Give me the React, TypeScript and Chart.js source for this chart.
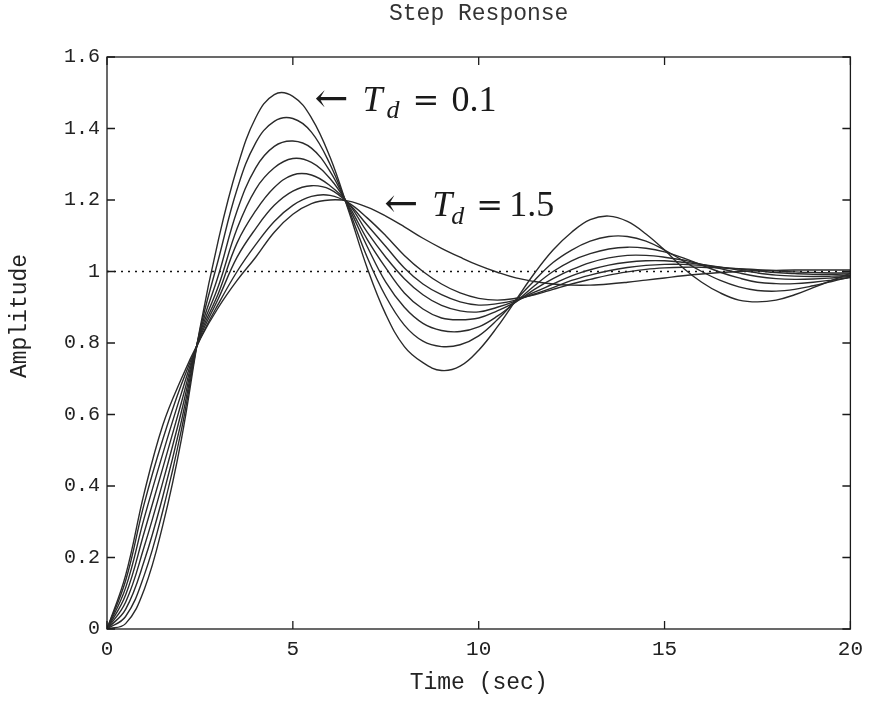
import React, { useEffect, useRef } from 'react';
import { Chart, registerables } from 'chart.js';

Chart.register(...registerables);

const titleText = 'Step Response';
const xTitle = 'Time (sec)';
const yTitle = 'Amplitude';
const xTicks = [0, 5, 10, 15, 20];
const yTicks = [0, 0.2, 0.4, 0.6, 0.8, 1, 1.2, 1.4, 1.6];

const times = [0, 0.5, 1, 1.5, 2, 2.5, 3, 3.5, 4, 4.5, 5, 5.5, 6, 6.5, 7, 7.5, 8, 8.5, 9, 9.5, 10, 10.5, 11, 11.5, 12, 12.5, 13, 13.5, 14, 14.5, 15, 15.5, 16, 16.5, 17, 17.5, 18, 18.5, 19, 19.5, 20];

const tdValues = ['0.1', '0.3', '0.5', '0.7', '0.9', '1.1', '1.3', '1.5'];
const yTd01 = [0, 0.015, 0.11, 0.29, 0.53, 0.84, 1.09, 1.29, 1.43, 1.495, 1.49, 1.43, 1.32, 1.17, 1.01, 0.88, 0.79, 0.745, 0.723, 0.735, 0.78, 0.845, 0.92, 0.995, 1.06, 1.11, 1.145, 1.155, 1.14, 1.105, 1.06, 1.01, 0.97, 0.94, 0.92, 0.915, 0.92, 0.935, 0.955, 0.975, 0.995];
const yTd03 = [0, 0.035, 0.15, 0.33, 0.556, 0.835, 1.035, 1.23, 1.36, 1.42, 1.428, 1.39, 1.30, 1.175, 1.04, 0.93, 0.85, 0.805, 0.79, 0.795, 0.82, 0.865, 0.92, 0.975, 1.025, 1.06, 1.085, 1.098, 1.098, 1.085, 1.06, 1.03, 1.0, 0.975, 0.957, 0.947, 0.945, 0.95, 0.96, 0.972, 0.985];
const yTd05 = [0, 0.055, 0.19, 0.37, 0.581, 0.83, 0.99, 1.17, 1.29, 1.35, 1.365, 1.345, 1.28, 1.18, 1.07, 0.97, 0.90, 0.855, 0.835, 0.832, 0.845, 0.875, 0.915, 0.96, 1.0, 1.03, 1.05, 1.063, 1.068, 1.065, 1.055, 1.038, 1.018, 0.998, 0.982, 0.97, 0.966, 0.966, 0.97, 0.976, 0.983];
const yTd07 = [0, 0.075, 0.23, 0.41, 0.607, 0.825, 0.96, 1.12, 1.23, 1.29, 1.316, 1.305, 1.26, 1.185, 1.09, 1.01, 0.94, 0.895, 0.87, 0.865, 0.87, 0.89, 0.915, 0.95, 0.98, 1.005, 1.025, 1.038, 1.045, 1.045, 1.04, 1.032, 1.02, 1.008, 0.996, 0.986, 0.98, 0.978, 0.979, 0.982, 0.986];
const yTd09 = [0, 0.095, 0.27, 0.45, 0.633, 0.82, 0.94, 1.08, 1.17, 1.235, 1.27, 1.27, 1.24, 1.19, 1.11, 1.04, 0.98, 0.935, 0.905, 0.89, 0.887, 0.90, 0.918, 0.942, 0.965, 0.988, 1.005, 1.018, 1.026, 1.03, 1.03, 1.026, 1.02, 1.012, 1.004, 0.996, 0.99, 0.987, 0.986, 0.987, 0.989];
const yTd11 = [0, 0.115, 0.31, 0.49, 0.659, 0.815, 0.925, 1.04, 1.12, 1.185, 1.225, 1.24, 1.23, 1.19, 1.13, 1.07, 1.01, 0.965, 0.935, 0.915, 0.906, 0.91, 0.92, 0.937, 0.955, 0.975, 0.99, 1.002, 1.011, 1.017, 1.02, 1.02, 1.017, 1.012, 1.007, 1.002, 0.997, 0.994, 0.992, 0.992, 0.993];
const yTd13 = [0, 0.135, 0.35, 0.53, 0.684, 0.81, 0.91, 1.0, 1.075, 1.14, 1.185, 1.21, 1.213, 1.192, 1.15, 1.10, 1.045, 1.0, 0.965, 0.94, 0.925, 0.92, 0.925, 0.935, 0.95, 0.965, 0.978, 0.99, 0.999, 1.006, 1.01, 1.012, 1.012, 1.01, 1.008, 1.005, 1.002, 0.999, 0.997, 0.996, 0.996];
const yTd15 = [0, 0.15, 0.38, 0.57, 0.70, 0.81, 0.90, 0.975, 1.04, 1.11, 1.16, 1.19, 1.20, 1.197, 1.18, 1.155, 1.125, 1.093, 1.065, 1.04, 1.017, 0.998, 0.982, 0.972, 0.965, 0.962, 0.962, 0.965, 0.97, 0.976, 0.982, 0.988, 0.993, 0.997, 1.0, 1.002, 1.003, 1.004, 1.004, 1.004, 1.004];
const curves = [yTd01, yTd03, yTd05, yTd07, yTd09, yTd11, yTd13, yTd15];

const refX = [0, 20];
const refY = [1, 1];

const monoFont = "'Liberation Mono', 'DejaVu Sans Mono', monospace";
const serifFont = "'Liberation Serif', 'DejaVu Serif', serif";
const symFont = "'DejaVu Serif', 'Liberation Serif', serif";

const framePlugin = {
  id: 'frameTicks',
  afterDraw(chart: any) {
    const { ctx, chartArea, scales } = chart;
    const { left, right, top, bottom } = chartArea;
    const xs = scales.x;
    const ys = scales.y;
    ctx.save();
    ctx.strokeStyle = '#1a1a1a';
    ctx.lineWidth = 1.3;
    ctx.strokeRect(left, top, right - left, bottom - top);
    const L = 8;
    ctx.beginPath();
    ys.ticks.forEach((t: any) => {
      const py = ys.getPixelForValue(t.value);
      ctx.moveTo(left, py); ctx.lineTo(left + L, py);
      ctx.moveTo(right, py); ctx.lineTo(right - L, py);
    });
    xs.ticks.forEach((t: any) => {
      const px = xs.getPixelForValue(t.value);
      ctx.moveTo(px, bottom); ctx.lineTo(px, bottom - L);
      ctx.moveTo(px, top); ctx.lineTo(px, top + L);
    });
    ctx.stroke();
    // y-axis title
    ctx.fillStyle = '#222';
    ctx.font = `23px ${monoFont}`;
    ctx.textAlign = 'center';
    ctx.textBaseline = 'middle';
    ctx.translate(20, 316);
    ctx.rotate(-Math.PI / 2);
    ctx.fillText(yTitle, 0, 0);
    ctx.restore();
  },
};

type Note = { t: number; v: number; value: string; dxT: number; dxD: number; dxEq: number; dxVal: number; dSub: number };
const notes: Note[] = [
  { t: 5.58, v: 1.48, value: '0.1', dxT: 48, dxD: 72, dxEq: 98, dxVal: 137, dSub: 18 },
  { t: 7.46, v: 1.187, value: '1.5', dxT: 48, dxD: 67, dxEq: 92, dxVal: 125, dSub: 19 },
];

const notePlugin = {
  id: 'tdNotes',
  afterDraw(chart: any) {
    const { ctx, scales } = chart;
    ctx.save();
    ctx.fillStyle = '#1a1a1a';
    ctx.textAlign = 'left';
    ctx.textBaseline = 'alphabetic';
    notes.forEach((n) => {
      const x0 = scales.x.getPixelForValue(n.t);
      const ay = scales.y.getPixelForValue(n.v);
      const base = ay + 11;
      ctx.font = `36px ${symFont}`;
      const w = ctx.measureText('\u2190').width;
      const size = (36 * 34) / w;
      ctx.font = `${size.toFixed(1)}px ${symFont}`;
      ctx.fillText('\u2190', x0, ay + size * 0.3);
      ctx.font = `italic 36px ${serifFont}`;
      ctx.fillText('T', x0 + n.dxT, base);
      ctx.font = `italic 26px ${serifFont}`;
      ctx.fillText('d', x0 + n.dxD, ay + n.dSub);
      ctx.font = `32px ${symFont}`;
      ctx.fillText('=', x0 + n.dxEq, base);
      ctx.font = `36px ${serifFont}`;
      ctx.fillText(n.value, x0 + n.dxVal, base);
    });
    ctx.restore();
  },
};

export default function App() {
  const ref = useRef<HTMLCanvasElement | null>(null);
  useEffect(() => {
    document.body.style.margin = '0';
    const canvas = ref.current;
    if (!canvas) return;
    const datasets: any[] = curves.map((arr, i) => ({
      label: 'Td = ' + tdValues[i],
      data: times.map((t, j) => ({ x: t, y: arr[j] })),
      borderColor: '#2a2a2a',
      borderWidth: 1.4,
      pointRadius: 0,
      tension: 0.4,
      fill: false,
    }));
    datasets.push({
      label: 'reference',
      data: refX.map((t, j) => ({ x: t, y: refY[j] })),
      borderColor: '#111',
      borderWidth: 1.3,
      borderDash: [2, 5],
      pointRadius: 0,
      fill: false,
    });
    const chart = new Chart(canvas, {
      type: 'line',
      data: { datasets },
      options: {
        responsive: false,
        animation: false,
        layout: { padding: { left: 0, right: 19, top: 0, bottom: 0 } },
        plugins: {
          legend: { display: false },
          tooltip: { enabled: false },
          title: {
            display: true,
            fullSize: false,
            text: titleText,
            color: '#333',
            font: { family: monoFont, size: 23, weight: 'normal' },
            padding: { top: 0, bottom: 29.4 },
          },
        },
        scales: {
          x: {
            type: 'linear',
            min: 0,
            max: 20,
            afterBuildTicks: (s: any) => { s.ticks = xTicks.map((v) => ({ value: v })); },
            afterFit: (s: any) => { s.height = 73; },
            grid: { display: false, drawTicks: false },
            border: { display: false },
            ticks: { color: '#222', font: { family: monoFont, size: 21 }, padding: 8, maxRotation: 0 },
            title: { display: true, text: xTitle, color: '#222', font: { family: monoFont, size: 23 }, padding: { top: 0, bottom: 5 } },
          },
          y: {
            type: 'linear',
            min: 0,
            max: 1.6,
            afterBuildTicks: (s: any) => { s.ticks = yTicks.map((v) => ({ value: v })); },
            afterFit: (s: any) => { s.width = 107; },
            grid: { display: false, drawTicks: false },
            border: { display: false },
            ticks: { color: '#222', font: { family: monoFont, size: 20 }, padding: 7, callback: (v: any) => String(Math.round(v * 10) / 10) },
          },
        },
      },
      plugins: [framePlugin, notePlugin],
    });
    return () => chart.destroy();
  }, []);
  return (
    <div style={{ position: 'absolute', left: 0, top: 0, width: 871, height: 702, background: '#fff' }}>
      <canvas ref={ref} width={871} height={702} />
    </div>
  );
}
